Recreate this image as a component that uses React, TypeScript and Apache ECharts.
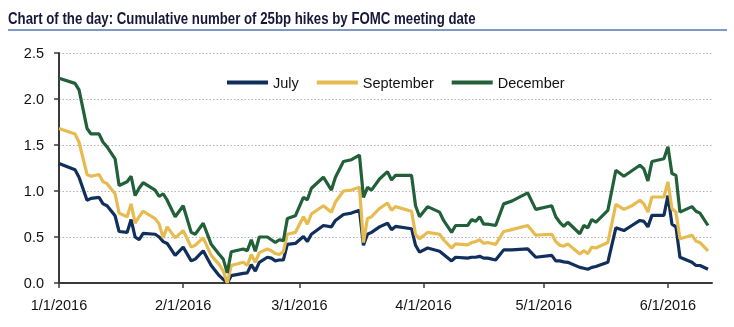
import React, { useEffect, useRef } from "react";
import * as echarts from "echarts";

const dates = [
  "2016-01-01","2016-01-05","2016-01-06","2016-01-08","2016-01-09","2016-01-11","2016-01-12","2016-01-13","2016-01-15","2016-01-16",
  "2016-01-18","2016-01-19","2016-01-20","2016-01-21","2016-01-22","2016-01-25","2016-01-26","2016-01-27","2016-01-28","2016-01-30",
  "2016-02-01","2016-02-03","2016-02-04","2016-02-06","2016-02-08","2016-02-10","2016-02-11","2016-02-12","2016-02-13","2016-02-16",
  "2016-02-17","2016-02-18","2016-02-19","2016-02-20","2016-02-22","2016-02-23","2016-02-24","2016-02-25","2016-02-26","2016-02-27",
  "2016-02-29","2016-03-02","2016-03-03","2016-03-04","2016-03-07","2016-03-09","2016-03-10","2016-03-12","2016-03-14","2016-03-16",
  "2016-03-17","2016-03-18","2016-03-19","2016-03-21","2016-03-23","2016-03-24","2016-03-25","2016-03-29","2016-03-30","2016-03-31",
  "2016-04-02","2016-04-05","2016-04-06","2016-04-08","2016-04-09","2016-04-12","2016-04-13","2016-04-14","2016-04-15","2016-04-16",
  "2016-04-17","2016-04-19","2016-04-21","2016-04-23","2016-04-27","2016-04-29","2016-05-03","2016-05-04","2016-05-05","2016-05-06",
  "2016-05-07","2016-05-10","2016-05-11","2016-05-12","2016-05-13","2016-05-14","2016-05-17","2016-05-19","2016-05-21","2016-05-23",
  "2016-05-25","2016-05-26","2016-05-27","2016-05-28","2016-05-31","2016-06-01","2016-06-02","2016-06-03","2016-06-04","2016-06-07",
  "2016-06-08","2016-06-09","2016-06-11"
];

const july = [
  1.30,1.23,1.15,0.90,0.92,0.93,0.86,0.84,0.73,0.56,
  0.55,0.69,0.50,0.47,0.54,0.53,0.50,0.45,0.43,0.30,
  0.39,0.24,0.26,0.35,0.19,0.08,0.04,0.00,0.08,0.105,
  0.11,0.20,0.13,0.225,0.28,0.27,0.24,0.25,0.25,0.42,
  0.43,0.505,0.45,0.53,0.625,0.61,0.68,0.745,0.76,0.79,
  0.41,0.53,0.55,0.61,0.65,0.58,0.615,0.59,0.41,0.335,
  0.38,0.345,0.31,0.24,0.28,0.27,0.28,0.28,0.29,0.27,
  0.27,0.25,0.36,0.36,0.37,0.28,0.30,0.24,0.24,0.23,
  0.225,0.17,0.16,0.15,0.17,0.18,0.225,0.60,0.57,0.625,
  0.68,0.67,0.61,0.735,0.735,0.95,0.64,0.61,0.28,0.225,
  0.19,0.19,0.15
];

const september = [
  1.68,1.62,1.53,1.18,1.16,1.18,1.10,1.08,0.97,0.76,
  0.72,0.86,0.65,0.72,0.78,0.70,0.64,0.49,0.61,0.49,
  0.57,0.39,0.41,0.49,0.30,0.20,0.13,0.00,0.19,0.225,
  0.19,0.31,0.225,0.33,0.37,0.35,0.32,0.31,0.34,0.53,
  0.55,0.72,0.64,0.75,0.84,0.77,0.88,1.00,1.01,1.04,
  0.44,0.70,0.72,0.81,0.87,0.79,0.83,0.78,0.53,0.48,
  0.55,0.53,0.47,0.38,0.425,0.415,0.44,0.45,0.47,0.43,
  0.44,0.42,0.56,0.58,0.625,0.52,0.53,0.45,0.41,0.40,
  0.425,0.315,0.35,0.32,0.39,0.38,0.44,0.855,0.80,0.84,
  0.90,0.86,0.77,0.935,0.935,1.10,0.81,0.77,0.48,0.52,
  0.455,0.44,0.35
];

const december = [
  2.225,2.17,2.10,1.68,1.62,1.62,1.53,1.48,1.35,1.06,
  1.10,1.16,0.95,1.03,1.09,1.01,0.94,0.97,0.90,0.72,
  0.84,0.55,0.53,0.65,0.42,0.31,0.26,0.11,0.34,0.37,
  0.35,0.47,0.345,0.50,0.50,0.47,0.44,0.47,0.46,0.70,
  0.73,0.93,0.905,1.03,1.15,1.01,1.15,1.32,1.34,1.39,
  0.93,1.04,1.01,1.13,1.21,1.12,1.17,1.17,0.84,0.72,
  0.83,0.77,0.68,0.55,0.625,0.625,0.69,0.67,0.72,0.64,
  0.64,0.625,0.86,0.89,0.98,0.80,0.84,0.72,0.66,0.615,
  0.66,0.535,0.625,0.60,0.69,0.66,0.79,1.225,1.16,1.22,
  1.28,1.24,1.11,1.32,1.35,1.48,1.19,1.17,0.77,0.83,
  0.78,0.76,0.625
];

const seriesNames = ["July", "September", "December"];
const seriesColors = ["#112f5c", "#e6bb50", "#22603a"];
const monthTicks = ["2016-01-01", "2016-02-01", "2016-03-01", "2016-04-01", "2016-05-01", "2016-06-01"];
const xMin = "2016-01-01";
const xMax = "2016-06-12";
const title = "Chart of the day: Cumulative number of 25bp hikes by FOMC meeting date";

const ts = (s: string) => {
  const [y, m, d] = s.split("-").map(Number);
  return Date.UTC(y, m - 1, d);
};

const FONT = "'Liberation Sans', Arial, sans-serif";

export default function App() {
  const ref = useRef<HTMLDivElement>(null);
  useEffect(() => {
    if (!ref.current) return;
    const chart = echarts.init(ref.current, null, { renderer: "svg" });

    const titleFont = "bold 16px 'Liberation Sans', Arial, sans-serif";
    const cv = document.createElement("canvas").getContext("2d")!;
    cv.font = titleFont;
    const natural = cv.measureText(title).width || 468;
    const sx = 468 / natural;

    const values = [july, september, december];
    chart.setOption({
      animation: false,
      grid: { left: 59, right: 22, top: 53, bottom: 44, containLabel: false },
      legend: {
        left: 222,
        top: 70,
        itemWidth: 41,
        itemHeight: 4,
        itemGap: 18,
        icon: "rect",
        data: seriesNames,
        textStyle: { fontFamily: FONT, fontSize: 14.5, color: "#111" },
      },
      graphic: [
        {
          type: "text",
          x: 8,
          y: 11,
          scaleX: sx,
          style: { text: title, font: titleFont, fill: "#17173a" },
        },
        {
          type: "line",
          shape: { x1: 8, y1: 30, x2: 727, y2: 30 },
          style: { stroke: "#5577ab", lineWidth: 1.5 },
        },
      ],
      xAxis: {
        type: "value",
        min: ts(xMin),
        max: ts(xMax),
        splitLine: { show: false },
        axisLine: { lineStyle: { color: "#3a3a3a", width: 2 } },
        axisTick: {
          show: true,
          length: 5,
          lineStyle: { color: "#3a3a3a", width: 1.5 },
          customValues: monthTicks.map(ts),
        },
        axisLabel: {
          customValues: monthTicks.map(ts),
          margin: 14,
          fontFamily: FONT,
          fontSize: 14.5,
          color: "#111",
          formatter: (v: number) => {
            const d = new Date(v);
            return `${d.getUTCMonth() + 1}/${d.getUTCDate()}/${d.getUTCFullYear()}`;
          },
        },
      },
      yAxis: {
        type: "value",
        min: 0,
        max: 2.5,
        interval: 0.5,
        axisLine: { show: true, lineStyle: { color: "#3a3a3a", width: 2 } },
        axisTick: { show: true, length: 5, lineStyle: { color: "#3a3a3a", width: 1.5 } },
        axisLabel: {
          margin: 15,
          fontFamily: FONT,
          fontSize: 14.5,
          color: "#111",
          formatter: (v: number) => v.toFixed(1),
        },
        splitLine: { show: true, lineStyle: { type: [1.5, 2], color: "#b3b3b3", width: 1 } },
      },
      series: seriesNames.map((name, i) => ({
        name,
        type: "line",
        symbol: "none",
        color: seriesColors[i],
        lineStyle: { width: 3.2, color: seriesColors[i] },
        data: dates.map((d, k) => [ts(d), values[i][k]]),
      })),
    });
    return () => chart.dispose();
  }, []);
  return <div ref={ref} style={{ position: "fixed", left: 0, top: 0, width: 734, height: 327 }} />;
}
